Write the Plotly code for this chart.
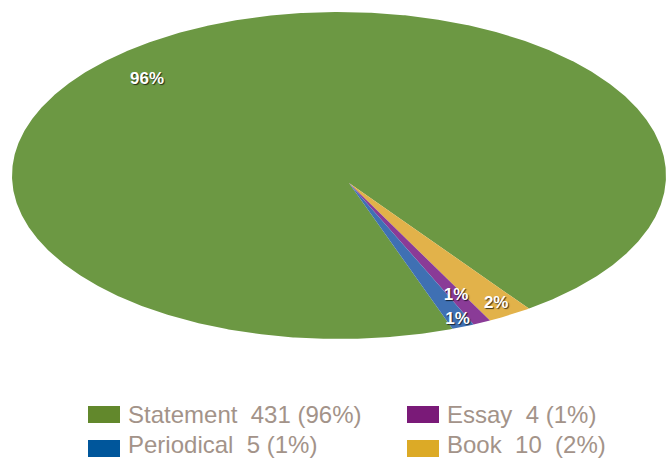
import numpy as np
import plotly.graph_objects as go

# ---------------- data ----------------
categories = ["Statement", "Essay", "Periodical", "Book"]
counts = [431, 4, 5, 10]
pct_labels = ["96%", "1%", "1%", "2%"]
legend_labels = [
    "Statement\u00a0\u00a0431 (96%)",
    "Essay\u00a0\u00a04 (1%)",
    "Periodical\u00a0\u00a05 (1%)",
    "Book\u00a0\u00a010\u00a0\u00a0(2%)",
]

# ---------------- style ----------------
slice_colors = {"Statement": "#6c9843", "Essay": "#8a3b97", "Periodical": "#3f70b3", "Book": "#e2b24a"}
legend_colors = {"Statement": "#62882c", "Essay": "#7a1a78", "Periodical": "#00569b", "Book": "#dcaa26"}
clockwise_order = ["Book", "Essay", "Periodical", "Statement"]
ROT = 144.5                      # start angle (deg, clockwise from 12 o'clock)
CX, CY, RX, RY = 339, 175.5, 327, 163.5
APEX = (349, 183)
label_radius = {"Statement": 0.83, "Essay": 0.82, "Periodical": 0.956, "Book": 0.92}
label_angle_override = {"Statement": 315}
legend_slots = {"Statement": (88, 414.5, 414), "Essay": (407, 414.5, 414),
                "Periodical": (88, 448.5, 444.5), "Book": (407, 448.5, 444.5)}


def pt(theta_deg, r=1.0):
    t = np.radians(theta_deg)
    return CX + r * RX * np.sin(t), CY - r * RY * np.cos(t)


total = float(sum(counts))
val = dict(zip(categories, counts))
pct = dict(zip(categories, pct_labels))

fig = go.Figure()
start = ROT
spans = {}
for cat in clockwise_order:
    span = val[cat] / total * 360.0
    spans[cat] = (start, start + span)
    start += span

# draw Statement first (large background slice), then small ones
for cat in ["Statement", "Book", "Essay", "Periodical"]:
    a0, a1 = spans[cat]
    n = max(4, int((a1 - a0) * 3))
    th = np.linspace(a0, a1, n)
    bx, by = pt(th)
    xs = [APEX[0]] + list(bx) + [APEX[0]]
    ys = [APEX[1]] + list(by) + [APEX[1]]
    fig.add_trace(go.Scatter(x=xs, y=ys, mode="lines", fill="toself",
                             fillcolor=slice_colors[cat], line=dict(width=0),
                             hoverinfo="skip", showlegend=False))

# percentage labels
for cat in categories:
    a0, a1 = spans[cat]
    ang = label_angle_override.get(cat, (a0 + a1) / 2)
    lx, ly = pt(ang, label_radius[cat])
    fig.add_trace(go.Scatter(x=[lx], y=[ly], mode="text", text=[pct[cat]],
                             textposition="middle center",
                             textfont=dict(family="Liberation Sans, Arial, sans-serif", size=17,
                                           color="white", weight="bold",
                                           shadow="1px 1px 1px rgba(0,0,0,0.7)"),
                             hoverinfo="skip", showlegend=False))

# legend (swatch + text)
for cat, lab in zip(categories, legend_labels):
    sx, sy, ty = legend_slots[cat]
    fig.add_shape(type="rect", xref="x", yref="y", x0=sx, x1=sx + 32, y0=sy - 8.5, y1=sy + 8.5,
                  fillcolor=legend_colors[cat], line=dict(width=0), layer="above")
    fig.add_annotation(x=sx + 38, y=ty, xref="x", yref="y", text=lab, showarrow=False,
                       xanchor="left", yanchor="middle",
                       font=dict(family="Liberation Sans, Arial, sans-serif", size=24, color="#a39389"))

fig.update_layout(
    width=666, height=459,
    margin=dict(l=0, r=0, t=0, b=0),
    paper_bgcolor="white", plot_bgcolor="white",
    showlegend=False,
    xaxis=dict(range=[0, 666], visible=False, fixedrange=True),
    yaxis=dict(range=[459, 0], visible=False, fixedrange=True),
)

fig.write_html("out.html", config={"displayModeBar": False},
               post_script="document.body.style.margin='0px';document.body.style.overflow='hidden';")
